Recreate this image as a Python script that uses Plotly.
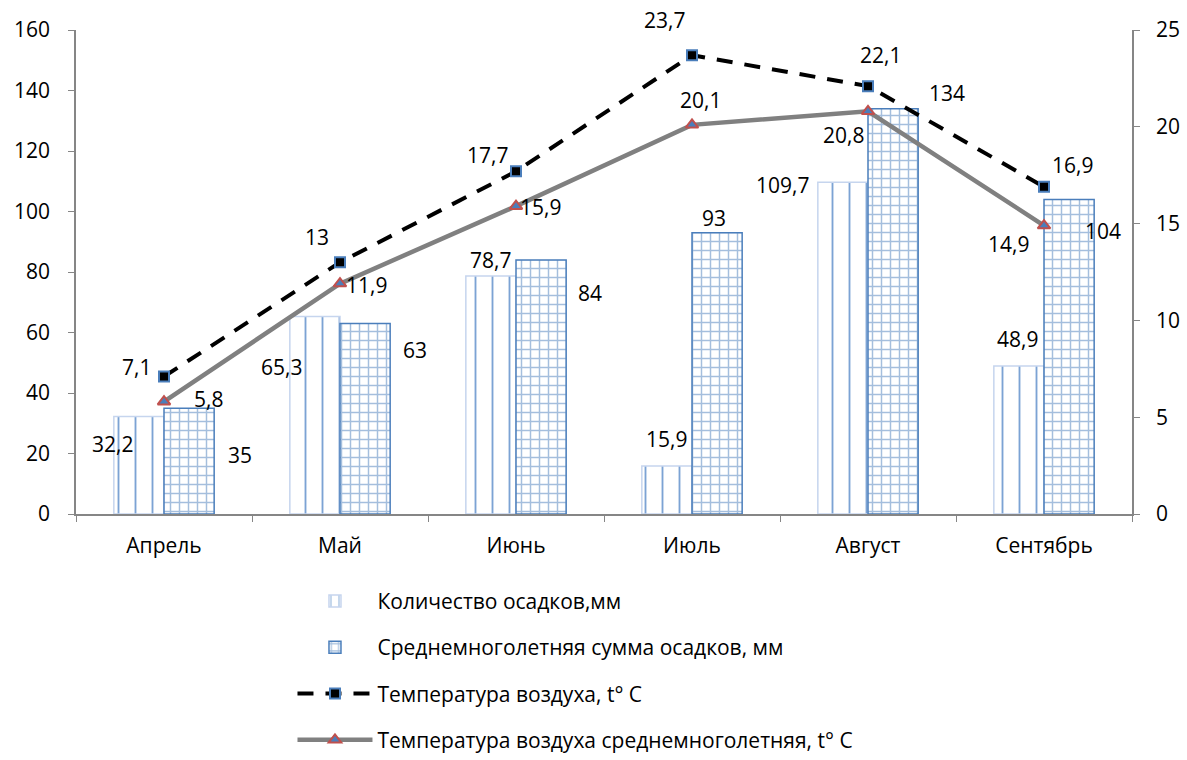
import plotly.graph_objects as go

months = ["Апрель", "Май", "Июнь", "Июль", "Август", "Сентябрь"]
precip = [32.2, 65.3, 78.7, 15.9, 109.7, 48.9]
precip_norm = [35, 63, 84, 93, 134, 104]
temp = [7.1, 13, 17.7, 23.7, 22.1, 16.9]
temp_norm = [5.8, 11.9, 15.9, 20.1, 20.8, 14.9]

names = [
    "Количество осадков,мм",
    "Среднемноголетняя сумма осадков, мм",
    "Температура воздуха, t° C",
    "Температура воздуха среднемноголетняя, t° C",
]

# label offsets in pixels (dx, dy) relative to each point
precip_off = [(-52, -27), (-59, -51), (-26, 16), (-26, 27), (-86, -3), (-27, 27)]
precip_norm_off = [(76, -47), (75, -27), (74, -33), (22, 15), (79, 16), (59, -32)]
temp_off = [(-28, 10), (-23, 25), (-29, 16), (-28, 35), (12, 31), (28, 22)]
temp_norm_off = [(44, 3), (26, -1), (24, -1), (8, 25), (-25, -24), (-36, -18)]

FONT = "'Open Sans', 'Noto Sans', sans-serif"
FS = 21
BLUE = "#4a7ebb"

fig = go.Figure()
fig.add_trace(go.Bar(
    x=months, y=precip, name=names[0], legendgroup="a",
    marker=dict(color="white", line=dict(color="#c6d5ee", width=1.5),
                pattern=dict(shape="|", fgcolor="#5b8cc9", bgcolor="white",
                             size=17, solidity=0.11, fgopacity=0.8)),
))
fig.add_trace(go.Bar(
    x=months, y=precip_norm, name=names[1], legendgroup="b",
    marker=dict(color="white", line=dict(color=BLUE, width=1.5),
                pattern=dict(shape="+", fgcolor=BLUE, bgcolor="white", size=9, solidity=0.3)),
))
fig.add_trace(go.Scatter(
    x=months, y=temp, name=names[2], yaxis="y2", legendgroup="c",
    mode="lines+markers",
    line=dict(color="black", width=4, dash="16px,12px"),
    marker=dict(symbol="square", size=10, color="black", line=dict(color=BLUE, width=2)),
))
fig.add_trace(go.Scatter(
    x=months, y=temp_norm, name=names[3], yaxis="y2", legendgroup="d",
    mode="lines+markers",
    line=dict(color="#808080", width=4.5),
    marker=dict(symbol="triangle-up", size=11, color=BLUE, line=dict(color="#c0504d", width=2)),
))

def fmt(v):
    return (f"{v:g}").replace(".", ",")

annotations = []
for vals, offs, yref in [(precip, precip_off, "y"), (precip_norm, precip_norm_off, "y"),
                         (temp, temp_off, "y2"), (temp_norm, temp_norm_off, "y2")]:
    for m, v, (dx, dy) in zip(months, vals, offs):
        annotations.append(dict(
            x=m, y=v, xref="x", yref=yref, text=fmt(v), showarrow=False,
            xshift=dx, yshift=dy, font=dict(family=FONT, size=FS, color="black"),
        ))

axis_common = dict(showgrid=False, zeroline=False, showline=True, linecolor="#868686",
                   linewidth=1.5, ticks="outside", ticklen=6, tickcolor="#868686",
                   tickfont=dict(family=FONT, size=FS, color="black"))

fig.update_layout(
    width=1187, height=760,
    margin=dict(l=76, r=55, t=30, b=246, autoexpand=False),
    paper_bgcolor="white", plot_bgcolor="white",
    barmode="group", bargap=0.43, bargroupgap=0,
    font=dict(family=FONT, size=FS, color="black"),
    xaxis=dict(**axis_common, tickson="boundaries", ticklabelstandoff=12),
    yaxis=dict(**axis_common, range=[0, 160], dtick=20, ticklabelstandoff=14),
    yaxis2=dict(**axis_common, range=[0, 25], dtick=5, overlaying="y", side="right",
                ticklabelstandoff=12),
    legend=dict(orientation="v", x=0.205, xanchor="left", y=-0.138, yanchor="top",
                traceorder="grouped", tracegroupgap=16, itemwidth=75,
                font=dict(family=FONT, size=FS, color="black")),
    annotations=annotations,
)

fig.write_html("out.html")
